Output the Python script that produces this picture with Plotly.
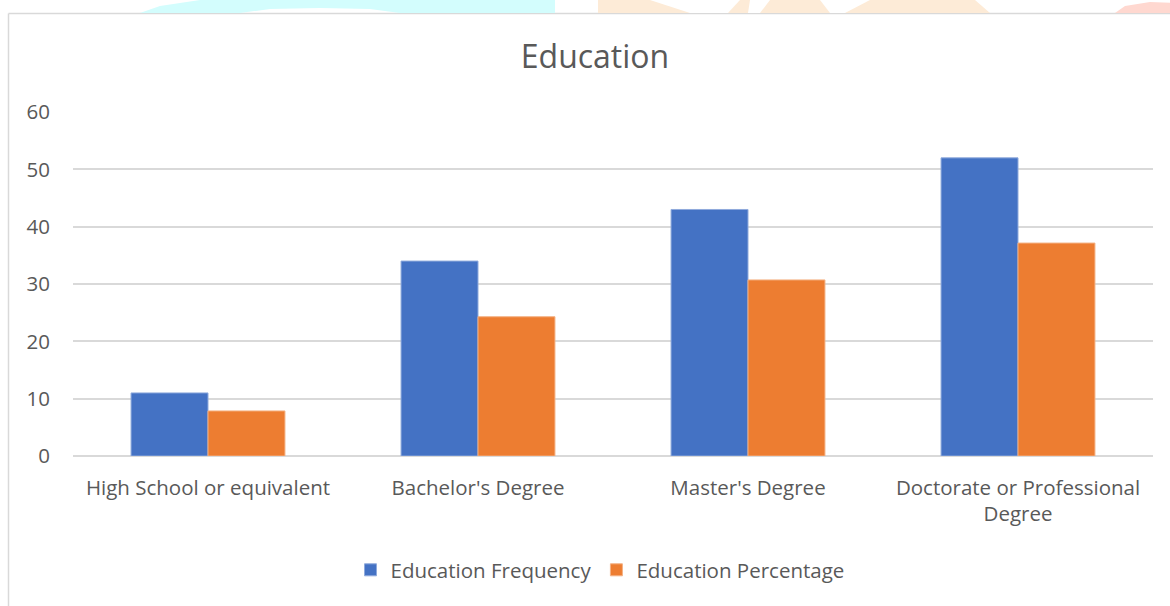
import plotly.graph_objects as go

# Chart data
categories = ["High School or equivalent", "Bachelor's Degree", "Master's Degree",
              "Doctorate or Professional<br>Degree"]
frequency = [11, 34, 43, 52]
percentage = [7.86, 24.29, 30.71, 37.14]
y_ticks = [0, 10, 20, 30, 40, 50, 60]

W, H = 1170, 606
L, R, T, B = 73, 17, 112, 150
PW, PH = W - L - R, H - T - B


def px(x):
    return (x - L) / PW


def py(y):
    return (H - B - y) / PH


FONT = "Open Sans"
GRID = "#d9d9d9"
TEXT = "#595959"
FS = 20.5

fig = go.Figure()
fig.add_trace(go.Bar(name="Education Frequency", x=categories, y=frequency,
                     marker=dict(color="#4472C4", line=dict(color="#8faadc", width=1))))
fig.add_trace(go.Bar(name="Education Percentage", x=categories, y=percentage,
                     marker=dict(color="#ED7D31", line=dict(color="#f4b183", width=1))))

shapes = []
# outer frame: left and top edges
shapes.append(dict(type="line", xref="paper", yref="paper", x0=px(8.5), x1=px(8.5),
                   y0=py(13.5), y1=py(H + 5), line=dict(color=GRID, width=1.5), layer="below"))
shapes.append(dict(type="line", xref="paper", yref="paper", x0=px(8.5), x1=px(W + 5),
                   y0=py(13.5), y1=py(13.5), line=dict(color=GRID, width=1.5), layer="below"))


def poly(points, color):
    path = "M " + " L ".join(f"{px(a):.5f},{py(b):.5f}" for a, b in points) + " Z"
    return dict(type="path", xref="paper", yref="paper", path=path,
                fillcolor=color, line=dict(width=0), layer="below")


# faint header decoration above the frame
shapes.append(poly([(140, 13), (160, 6), (200, 0), (555, 0), (555, 13), (400, 13),
                    (370, 9), (320, 8), (270, 9), (240, 13)], "#d3fdfd"))
shapes.append(poly([(598, 0), (975, 0), (990, 13), (598, 13)], "#fdebd7"))
shapes.append(poly([(650, 0), (740, 0), (728, 13), (690, 13)], "#ffffff"))
shapes.append(poly([(750, 0), (770, 0), (760, 13), (748, 13)], "#ffffff"))
shapes.append(poly([(820, 0), (870, 0), (845, 13), (830, 13)], "#ffffff"))
shapes.append(poly([(1115, 13), (1125, 6), (1150, 2), (1180, 3), (1205, 10), (1210, 13)],
                   "#ffd8d0"))

fig.update_layout(
    width=W, height=H,
    margin=dict(l=L, r=R, t=T, b=B, pad=0),
    paper_bgcolor="white", plot_bgcolor="white",
    font=dict(family=FONT, color=TEXT, size=FS),
    title=dict(text="Education", x=595 / W, xanchor="center",
               y=1 - 57 / H, yanchor="middle",
               font=dict(family=FONT, size=32, color=TEXT)),
    barmode="group", bargap=0.43, bargroupgap=0,
    xaxis=dict(showgrid=False, showline=False, ticks="", ticklabelstandoff=17,
               tickfont=dict(size=FS, color=TEXT)),
    yaxis=dict(range=[0, 60], tickvals=y_ticks, showgrid=True, gridcolor=GRID,
               gridwidth=1.5, zeroline=True, zerolinecolor=GRID, zerolinewidth=1.5,
               showline=False, ticks="", ticklabelstandoff=22,
               tickfont=dict(size=FS, color=TEXT)),
    legend=dict(orientation="h", x=(600 - L) / PW, xanchor="center",
                y=py(570), yanchor="middle",
                font=dict(size=FS, color=TEXT), itemwidth=30, tracegroupgap=0),
    shapes=shapes,
)

fig.write_html("out.html")
